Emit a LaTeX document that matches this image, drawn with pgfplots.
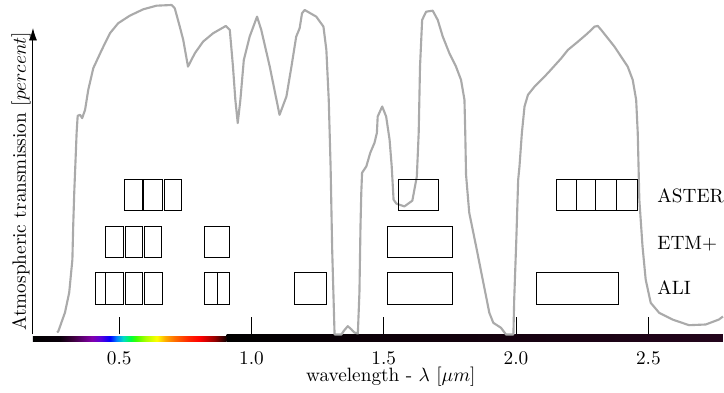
\documentclass[border=0pt]{standalone}
\usepackage{pgfplots}
\pgfplotsset{compat=1.18}
\usetikzlibrary{arrows.meta}
\definecolor{curvegray}{RGB}{170,170,170}
\pgfdeclarehorizontalshading{spectrum}{100bp}{rgb(0bp)=(0,0,0); rgb(25bp)=(0,0,0); rgb(32bp)=(0.04,0,0.04); rgb(35.3bp)=(0.24,0,0.24); rgb(40.2bp)=(0.51,0,0.67); rgb(42.5bp)=(0.35,0,0.86); rgb(44.9bp)=(0,0,1); rgb(46.6bp)=(0,0.51,1); rgb(48.3bp)=(0,0.86,0.78); rgb(50.3bp)=(0,1,0.24); rgb(51.6bp)=(0.24,1,0); rgb(54.1bp)=(0.67,1,0); rgb(57bp)=(1,1,0); rgb(59.2bp)=(1,0.67,0); rgb(61.6bp)=(1,0.43,0); rgb(65bp)=(1,0.16,0); rgb(68.1bp)=(1,0,0); rgb(71.9bp)=(0.59,0,0); rgb(75bp)=(0.06,0,0); rgb(100bp)=(0.06,0,0)}
\pgfdeclarehorizontalshading{nearblack}{100bp}{rgb(0bp)=(0,0,0); rgb(25bp)=(0,0,0); rgb(40bp)=(0.05,0,0.03); rgb(75bp)=(0.14,0.02,0.11); rgb(100bp)=(0.14,0.02,0.11)}
\newcommand{\band}[4]{\addplot[draw=black, line width=0.5pt, mark=none] coordinates {(#1,#3) (#2,#3) (#2,#4) (#1,#4)} -- cycle;}
\begin{document}
\begin{tikzpicture}
\begin{axis}[
  scale only axis, width=357.9pt, height=159.0pt,
  xmin=0.174, xmax=2.782, ymin=0, ymax=307,
  clip=false,
  axis x line=bottom, axis y line=left,
  x axis line style={draw=none},
  y axis line style={black, line width=0.5pt, -{Latex[length=6.5pt,width=4.2pt]}},
  ytick=\empty,
  xtick={0.5,1.0,1.5,2.0,2.5},
  xticklabels={0.5,1.0,1.5,2.0,2.5},
  tick align=inside,
  major tick length=9.3pt,
  x tick style={black, line width=0.5pt},
  xticklabel style={inner sep=0.5pt, yshift=-8.2pt},
  xlabel={wavelength - $\lambda$ [$\mu m$]},
  every axis x label/.style={at={(axis description cs:0.5,0)}, anchor=north, inner sep=0pt, yshift=-16.6pt, xshift=6.7pt},
  ylabel={Atmospheric transmission [$percent$]},
  every axis y label/.style={at={(axis description cs:0,0.5)}, rotate=90, anchor=south, inner sep=1pt},
]
% colour bar
\shade[shading=nearblack] (axis cs:0.906,0) rectangle (axis cs:2.782,-7);
\shade[shading=spectrum] (axis cs:0.174,-2) rectangle (axis cs:0.906,-7);

% atmospheric transmission
\addplot[curvegray, line width=1.1pt, line join=round, mark=none] coordinates {
(0.265,2) (0.270,3.3) (0.295,22) (0.311,42) (0.323,75) (0.326,108) (0.330,142)
(0.335,175) (0.339,202) (0.343,219) (0.352,220) (0.360,216.7) (0.371,225)
(0.383,245) (0.402,266.7) (0.434,285) (0.465,301.7) (0.496,311.7) (0.540,319.3)
(0.591,325.7) (0.641,329.3) (0.698,330) (0.710,326.7) (0.729,308.3) (0.742,295)
(0.760,268.3) (0.786,281.7) (0.817,293.3) (0.855,301.7) (0.903,309) (0.918,305)
(0.930,268.3) (0.939,235) (0.948,211.7) (0.958,235) (0.971,275) (0.993,298.3)
(1.021,318.3) (1.037,305) (1.069,268.3) (1.106,220) (1.132,238.3) (1.151,268.3)
(1.169,298.3) (1.182,306.7) (1.191,321.7) (1.201,325) (1.245,318.3) (1.272,308.3)
(1.283,285) (1.292,235) (1.299,168.3) (1.305,85) (1.314,0)
(1.340,0) (1.350,4) (1.364,8.3) (1.378,5) (1.389,2) (1.402,1)
(1.408,42) (1.412,108.3) (1.415,142) (1.418,162) (1.434,168.3) (1.449,182)
(1.465,192) (1.474,202) (1.477,218.3) (1.494,228.3) (1.509,218.3) (1.522,195)
(1.530,168.3) (1.537,135) (1.548,131) (1.578,128.3) (1.608,134) (1.625,158.3)
(1.632,202) (1.637,268.3) (1.645,315) (1.660,323.3) (1.685,324.3) (1.704,315)
(1.723,298.3) (1.748,281.7) (1.773,268.3) (1.792,255) (1.805,235) (1.808,202)
(1.811,160) (1.823,122) (1.849,88.3) (1.874,55) (1.899,21.7) (1.914,11.7)
(1.943,6.7) (1.962,0) (1.990,0) (1.993,35) (2.001,95) (2.008,155) (2.013,168.3)
(2.022,201.7) (2.032,228.3) (2.045,240) (2.070,248.3) (2.120,261.7) (2.171,276.7)
(2.196,285) (2.234,293.3) (2.271,301.7) (2.296,308.3) (2.309,309) (2.322,305)
(2.372,288.3) (2.422,268.3) (2.441,255) (2.454,235) (2.460,201.7) (2.466,135)
(2.478,88.3) (2.490,55) (2.509,31.7) (2.541,21.7) (2.591,15) (2.654,9.3)
(2.717,10) (2.767,15) (2.782,18)
};

% ASTER
\band{0.5215}{0.5883}{124}{155}
\band{0.5932}{0.6638}{124}{155}
\band{0.6698}{0.7355}{124}{155}
\band{1.557}{1.708}{124}{155}
\band{2.153}{2.229}{124}{155}
\band{2.229}{2.302}{124}{155}
\band{2.302}{2.380}{124}{155}
\band{2.380}{2.459}{124}{155}
% ETM+
\band{0.4498}{0.5177}{76.7}{108.3}
\band{0.5234}{0.5894}{76.7}{108.3}
\band{0.597}{0.6611}{76.7}{108.3}
\band{0.8234}{0.9177}{76.7}{108.3}
\band{1.513}{1.759}{76.7}{108.3}
% ALI
\band{0.409}{0.4498}{30}{61.7}
\band{0.4498}{0.5177}{30}{61.7}
\band{0.5234}{0.5894}{30}{61.7}
\band{0.597}{0.6630}{30}{61.7}
\band{0.8234}{0.8698}{30}{61.7}
\band{0.8698}{0.9177}{30}{61.7}
\band{1.163}{1.2826}{30}{61.7}
\band{1.513}{1.759}{30}{61.7}
\band{2.079}{2.388}{30}{61.7}

\node[anchor=base west, inner sep=0pt] at (axis cs:2.533,132) {ASTER};
\node[anchor=base west, inner sep=0pt] at (axis cs:2.533,85) {ETM+};
\node[anchor=base west, inner sep=0pt] at (axis cs:2.533,40) {ALI};

\coordinate (bbTL) at (axis cs:0.174,335);
\coordinate (bbBR) at (axis cs:2.782,-58);
\end{axis}
\path ([xshift=-17.1pt]bbTL) rectangle (bbBR);
\end{tikzpicture}
\end{document}
